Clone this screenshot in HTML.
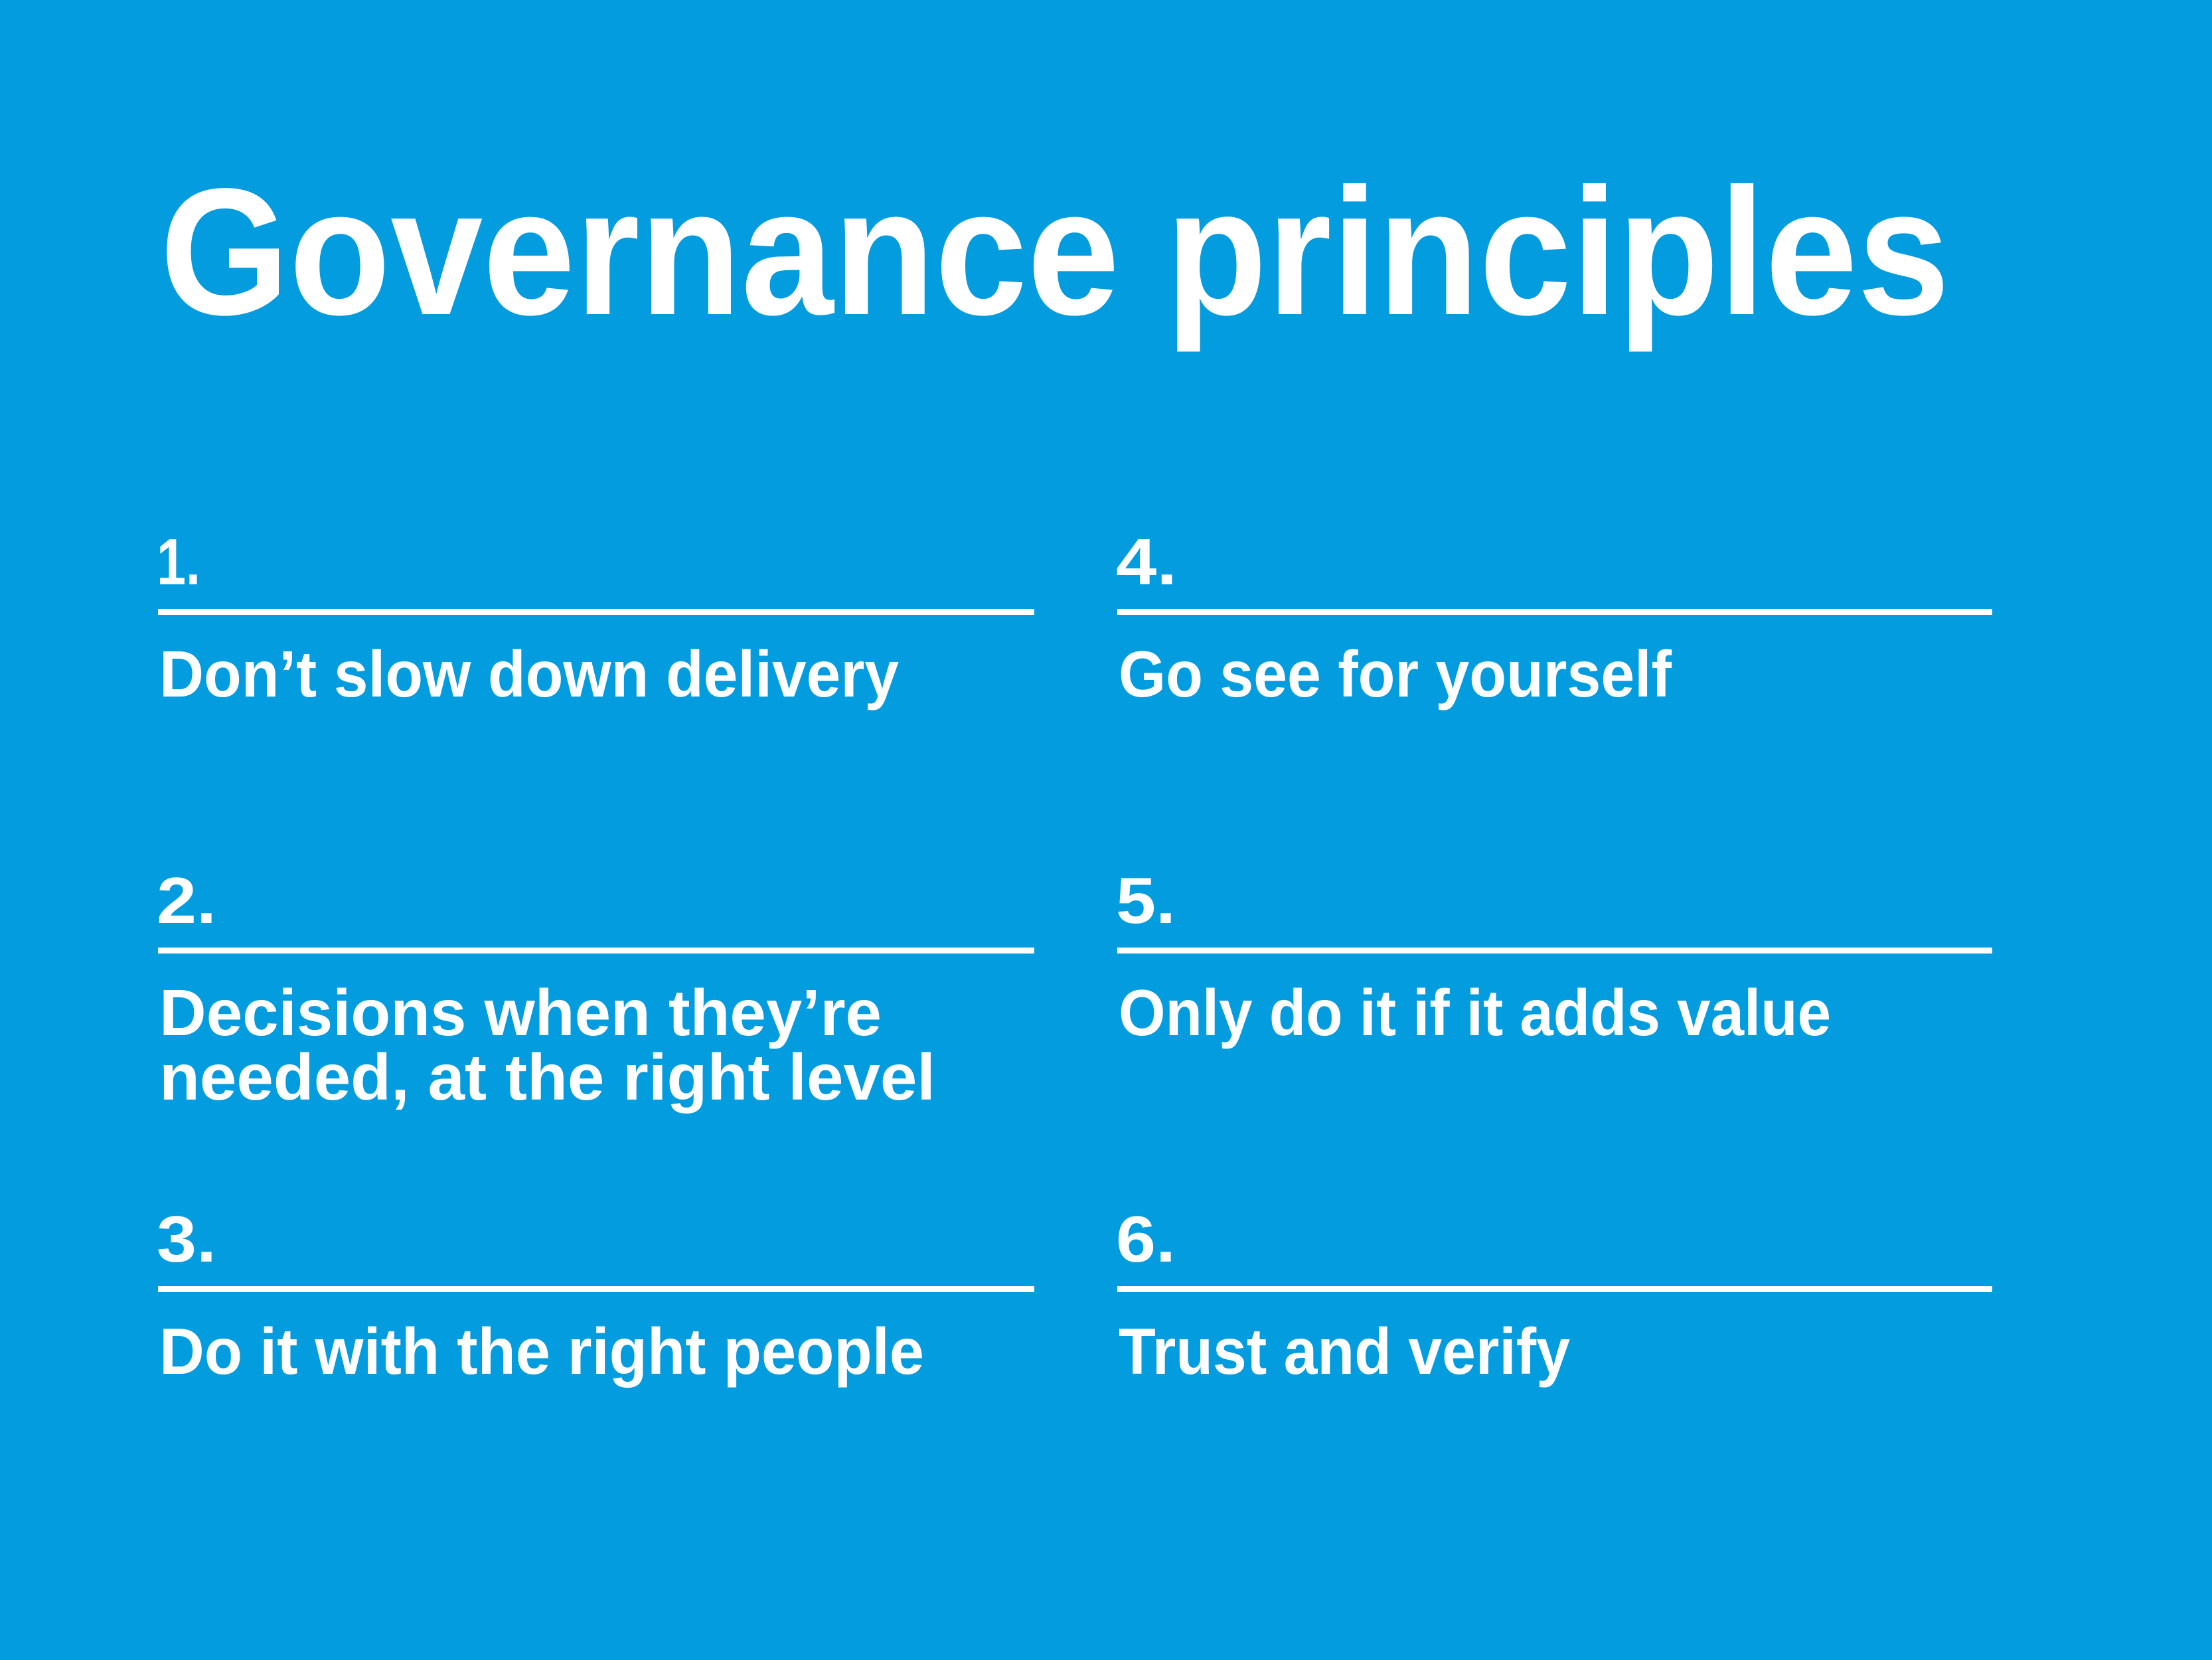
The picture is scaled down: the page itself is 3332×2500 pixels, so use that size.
<!DOCTYPE html>
<html>
<head>
<meta charset="utf-8">
<style>
  html,body{margin:0;padding:0;background:#029cdf;}
  svg{display:block;}
  text{font-family:"Liberation Sans",sans-serif;font-weight:bold;fill:#ffffff;}
</style>
</head>
<body>
<svg width="3332" height="2500" viewBox="0 0 3332 2500">
  <rect x="0" y="0" width="3332" height="2500" fill="#029cdf"/>
  <text x="241" y="473" font-size="272" textLength="2696" lengthAdjust="spacingAndGlyphs">Governance principles</text>

  <!-- Column 1 -->
  <g>
    <text x="236" y="880" font-size="98" textLength="66" lengthAdjust="spacingAndGlyphs">1.</text>
    <rect x="238" y="917" width="1320" height="9" fill="#fff"/>
    <text x="240" y="1049" font-size="98" textLength="1114" lengthAdjust="spacingAndGlyphs">Don’t slow down delivery</text>
  </g>
  <g>
    <text x="236" y="1390" font-size="98" textLength="90" lengthAdjust="spacingAndGlyphs">2.</text>
    <rect x="238" y="1427" width="1320" height="9" fill="#fff"/>
    <text x="240" y="1559" font-size="98" textLength="1088" lengthAdjust="spacingAndGlyphs">Decisions when they’re</text>
    <text x="240" y="1656" font-size="98" textLength="1169" lengthAdjust="spacingAndGlyphs">needed, at the right level</text>
  </g>
  <g>
    <text x="236" y="1900" font-size="98" textLength="90" lengthAdjust="spacingAndGlyphs">3.</text>
    <rect x="238" y="1937" width="1320" height="9" fill="#fff"/>
    <text x="240" y="2069" font-size="98" textLength="1152" lengthAdjust="spacingAndGlyphs">Do it with the right people</text>
  </g>

  <!-- Column 2 -->
  <g>
    <text x="1681" y="880" font-size="98" textLength="92" lengthAdjust="spacingAndGlyphs">4.</text>
    <rect x="1683" y="917" width="1318" height="9" fill="#fff"/>
    <text x="1685" y="1049" font-size="98" textLength="833" lengthAdjust="spacingAndGlyphs">Go see for yourself</text>
  </g>
  <g>
    <text x="1681" y="1390" font-size="98" textLength="90" lengthAdjust="spacingAndGlyphs">5.</text>
    <rect x="1683" y="1427" width="1318" height="9" fill="#fff"/>
    <text x="1685" y="1559" font-size="98" textLength="1073" lengthAdjust="spacingAndGlyphs">Only do it if it adds value</text>
  </g>
  <g>
    <text x="1681" y="1900" font-size="98" textLength="90" lengthAdjust="spacingAndGlyphs">6.</text>
    <rect x="1683" y="1937" width="1318" height="9" fill="#fff"/>
    <text x="1685" y="2069" font-size="98" textLength="680" lengthAdjust="spacingAndGlyphs">Trust and verify</text>
  </g>
</svg>
</body>
</html>
